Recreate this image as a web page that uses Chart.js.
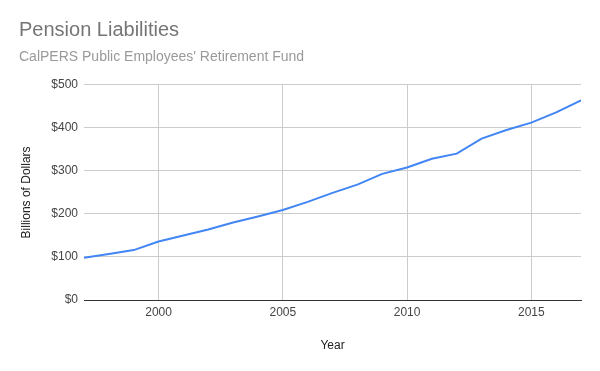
<!DOCTYPE html>
<html>
<head>
<meta charset="utf-8">
<script src="https://cdn.jsdelivr.net/npm/chart.js@4/dist/chart.umd.min.js"></script>
<style>
  html, body { margin: 0; padding: 0; background: #fff; }
  #wrap { width: 600px; height: 371px; }
</style>
</head>
<body>
<div id="wrap"><canvas id="pensionChart" width="600" height="371"></canvas></div>
<script>
// Pension liabilities, billions of dollars
const years = [1997, 1998, 1999, 2000, 2001, 2002, 2003, 2004, 2005, 2006, 2007,
               2008, 2009, 2010, 2011, 2012, 2013, 2014, 2015, 2016, 2017];
const liabilities = [98, 107, 116, 136, 150, 164, 180, 194, 209, 228, 249,
                     268, 293, 308, 328, 340, 375, 395, 412, 436, 464];
const yTicks = [0, 100, 200, 300, 400, 500];
const xTicks = [2000, 2005, 2010, 2015];

const FONT = 'Arial, "Liberation Sans", sans-serif';

new Chart(document.getElementById('pensionChart'), {
  type: 'line',
  data: {
    datasets: [{
      label: 'Pension Liabilities',
      data: years.map((yr, i) => ({ x: yr, y: liabilities[i] })),
      borderColor: '#4285F4',
      backgroundColor: '#4285F4',
      borderWidth: 2,
      pointRadius: 0,
      tension: 0,
      fill: false
    }]
  },
  options: {
    responsive: false,
    animation: false,
    layout: { padding: { left: 19, right: 19, top: 0, bottom: 0 } },
    plugins: {
      legend: { display: false },
      tooltip: { enabled: false },
      title: {
        display: true,
        text: 'Pension Liabilities',
        align: 'start',
        color: '#757575',
        font: { family: FONT, size: 20, weight: 'normal' },
        padding: { top: 18, bottom: 0 }
      },
      subtitle: {
        display: true,
        text: "CalPERS Public Employees' Retirement Fund",
        align: 'start',
        color: '#999999',
        font: { family: FONT, size: 14, weight: 'normal' },
        padding: { top: 7, bottom: 19 }
      }
    },
    scales: {
      x: {
        type: 'linear',
        min: years[0],
        max: years[years.length - 1],
        afterBuildTicks: axis => { axis.ticks = xTicks.map(v => ({ value: v })); },
        afterFit: axis => { axis.height = 71; },
        ticks: {
          color: '#444',
          font: { family: FONT, size: 12 },
          padding: 5,
          maxRotation: 0,
          callback: v => String(v)
        },
        grid: { color: '#cccccc', drawTicks: false },
        border: { display: true, color: '#333333', width: 1 },
        title: {
          display: true,
          text: 'Year',
          color: '#222',
          font: { family: FONT, size: 12 },
          padding: { top: 0, bottom: 18 }
        }
      },
      y: {
        min: 0,
        max: 500,
        afterBuildTicks: axis => { axis.ticks = yTicks.map(v => ({ value: v })); },
        afterFit: axis => { axis.width = 65; },
        ticks: {
          color: '#444',
          font: { family: FONT, size: 12 },
          padding: 6,
          callback: v => '$' + v
        },
        grid: { color: '#cccccc', drawTicks: false },
        border: { display: false },
        title: {
          display: true,
          text: 'Billions of Dollars',
          color: '#222',
          font: { family: FONT, size: 12 },
          padding: { top: 0, bottom: 0 }
        }
      }
    }
  }
});
</script>
</body>
</html>
